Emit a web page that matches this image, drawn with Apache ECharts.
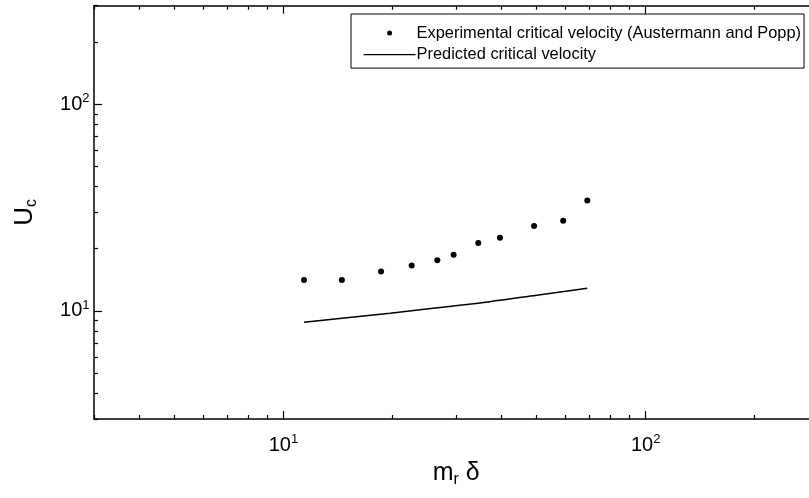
<!DOCTYPE html>
<html><head><meta charset="utf-8">
<script src="https://cdn.jsdelivr.net/npm/echarts@6/dist/echarts.min.js"></script>
<style>html,body{margin:0;padding:0;background:#fff}#c{width:809px;height:498px}</style>
</head><body><div id="c"></div>
<script>
// Experimental critical velocity (Austermann and Popp)
const expX = [11.4, 14.5, 18.6, 22.6, 26.6, 29.5, 34.5, 39.6, 49.2, 59.2, 69.0];
const expY = [14.1, 14.1, 15.5, 16.6, 17.6, 18.7, 21.3, 22.6, 25.8, 27.3, 34.2];
// Predicted critical velocity
const predX = [11.4, 14.5, 19.7, 26.6, 37.1, 50.0, 69.0];
const predY = [8.82, 9.22, 9.75, 10.37, 11.09, 11.92, 12.88];
const seriesNames = ['Experimental critical velocity (Austermann and Popp)', 'Predicted critical velocity'];
const axisMin = 3, axisMax = 300;
const majorTicks = [10, 100];
const minorTicks = [3, 4, 5, 6, 7, 8, 9, 20, 30, 40, 50, 60, 70, 80, 90, 200, 300];

const FONT = 'Liberation Sans, Arial, sans-serif';
const labelRich = {
  b: { fontSize: 20, fontFamily: FONT, color: '#000', lineHeight: 24 },
  s: { fontSize: 13, fontFamily: FONT, color: '#000', lineHeight: 13, verticalAlign: 'top' }
};
function fmt(v) { return '{b|10}{s|' + Math.round(Math.log10(v)) + '}'; }

function mkAxis(pos, ticks, len, withLabels, withLine, margin) {
  return {
    type: 'log', logBase: 10, min: axisMin, max: axisMax, position: pos,
    axisLine: { show: withLine, onZero: false, lineStyle: { color: '#000', width: 1.5 } },
    axisTick: { show: true, inside: true, length: len, customValues: ticks, lineStyle: { color: '#000', width: 1.2 } },
    axisLabel: withLabels ? { show: true, customValues: majorTicks, formatter: fmt, rich: labelRich, margin: margin } : { show: false },
    splitLine: { show: false }, minorTick: { show: false }
  };
}

const xAxes = [mkAxis('bottom', majorTicks, 8, true, true, 14), mkAxis('bottom', minorTicks, 4, false, false, 0),
               mkAxis('top', majorTicks, 8, false, true, 0), mkAxis('top', minorTicks, 4, false, false, 0)];
const yAxes = [mkAxis('left', majorTicks, 8, true, true, 4.5), mkAxis('left', minorTicks, 4, false, false, 0),
               mkAxis('right', majorTicks, 8, false, true, 0), mkAxis('right', minorTicks, 4, false, false, 0)];

xAxes[0].name = '{a|m}{s|r}{a| δ}';
xAxes[0].nameLocation = 'middle';
xAxes[0].nameGap = 39;
xAxes[0].nameTextStyle = { rich: {
  a: { fontSize: 25, fontFamily: FONT, color: '#000', lineHeight: 30 },
  s: { fontSize: 16, fontFamily: FONT, color: '#000', lineHeight: 16, verticalAlign: 'bottom' } } };
yAxes[0].name = '{a|U}{s|c}';
yAxes[0].nameLocation = 'middle';
yAxes[0].nameRotate = 90;
yAxes[0].nameGap = 54;
yAxes[0].nameTextStyle = { rich: {
  a: { fontSize: 26, fontFamily: FONT, color: '#000', lineHeight: 30 },
  s: { fontSize: 16, fontFamily: FONT, color: '#000', lineHeight: 16, verticalAlign: 'bottom' } } };

const chart = echarts.init(document.getElementById('c'), null, { renderer: 'canvas' });
chart.setOption({
  animation: false,
  backgroundColor: '#fff',
  grid: { left: 94, top: 5.7, width: 724.5, height: 413.3, containLabel: false, outerBoundsMode: 'none' },
  xAxis: xAxes,
  yAxis: yAxes,
  legend: {
    left: 351, top: 14, orient: 'vertical',
    backgroundColor: '#fff', borderColor: '#000', borderWidth: 1,
    padding: [11, 3, 5.5, 12], itemGap: 5.6, itemWidth: 52, itemHeight: 5,
    textStyle: { fontSize: 16.4, fontFamily: FONT, color: '#000', padding: [0, 0, 0, -4] },
    data: [
      { name: seriesNames[0], icon: 'circle' },
      { name: seriesNames[1], itemStyle: { color: 'rgba(0,0,0,0)', borderWidth: 0 }, lineStyle: { color: '#000', width: 1.2 } }
    ]
  },
  series: [
    {
      name: seriesNames[0], type: 'scatter', xAxisIndex: 0, yAxisIndex: 0,
      symbol: 'circle', symbolSize: 6, itemStyle: { color: '#000', opacity: 1 },
      data: expX.map((x, i) => [x, expY[i]])
    },
    {
      name: seriesNames[1], type: 'line', xAxisIndex: 0, yAxisIndex: 0,
      symbol: 'none', smooth: 0.3, lineStyle: { color: '#000', width: 1.5 }, itemStyle: { color: '#000' },
      data: predX.map((x, i) => [x, predY[i]])
    }
  ]
});
</script></body></html>
